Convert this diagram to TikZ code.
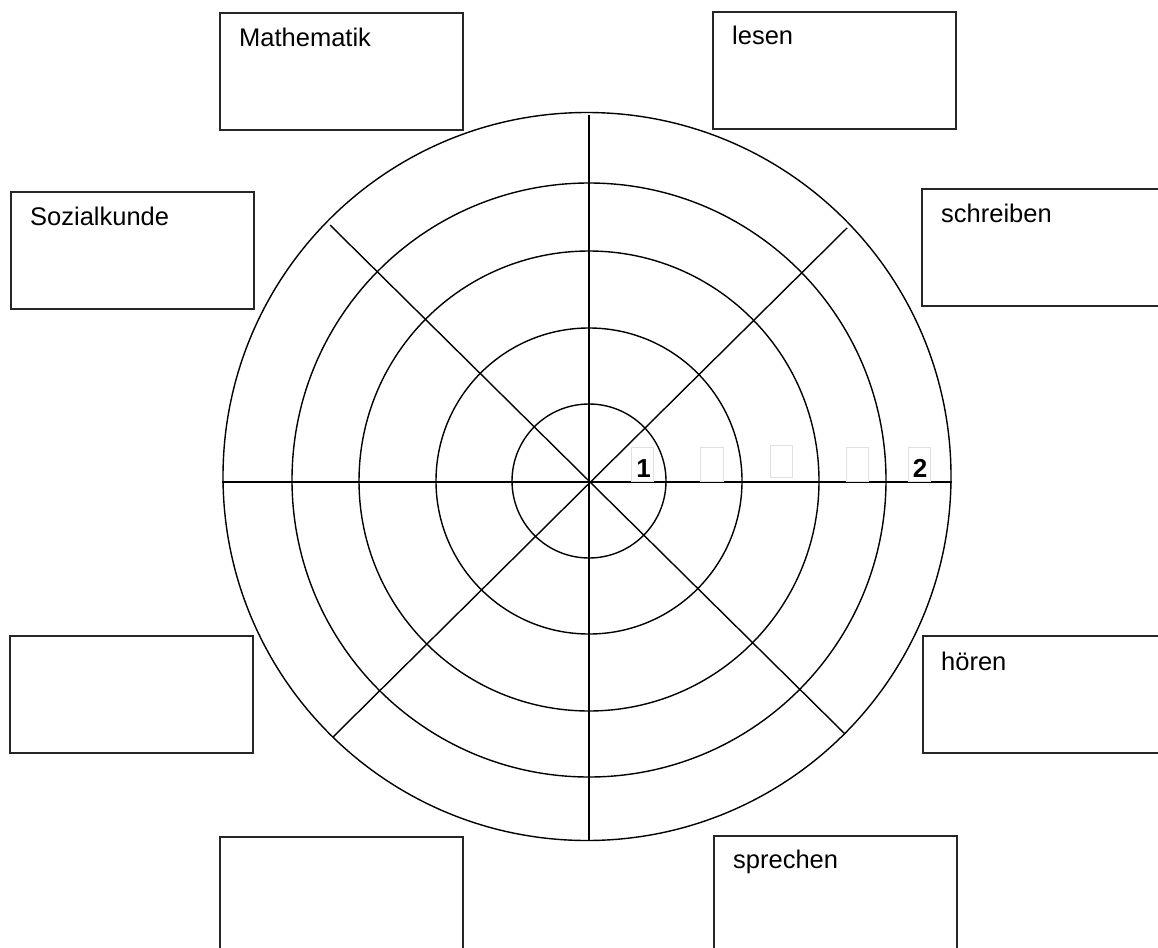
\documentclass[tikz,border=0pt]{standalone}
\usepackage{fontspec}
\setmainfont{Liberation Sans}
\begin{document}
\begin{tikzpicture}[x={(1pt,0)},y={(0,-1pt)},
  fbox/.style={draw=black!85,line width=1.4pt,minimum width=243pt,minimum height=117pt,anchor=north west,inner sep=0pt,outer sep=0pt},
  lbl/.style={anchor=base west,inner sep=0pt,font=\fontsize{25.5pt}{30pt}\selectfont},
  num/.style={anchor=base,inner sep=0pt,font=\fontsize{26pt}{30pt}\selectfont\bfseries},
  wbox/.style={fill=white,draw=black!12,line width=0.8pt},
  ring/.style={draw=black,line width=1.4pt},
  spoke/.style={draw=black,line width=1.4pt}]
\useasboundingbox (0,0) rectangle (1158,947);
\clip (0,0) rectangle (1158,947);
% rings
\coordinate (c) at (589,481);
\draw[ring] (c) circle[radius=77pt];
\draw[ring] (c) circle[radius=153pt];
\draw[ring] (c) circle[radius=230pt];
\draw[ring] (589,480) circle[radius=297pt];
\draw[ring] (587,476.5) circle[radius=364pt];
% spokes
\coordinate (W) at (222,482);
\coordinate (E) at (952,482);
\coordinate (N) at (589,115);
\coordinate (S) at (589,840);
\coordinate (NW) at (330,225);
\coordinate (NE) at (847,228);
\coordinate (SW) at (333,737);
\coordinate (SE) at (845,734);
\draw[spoke] (W) -- (E);
\draw[spoke] (N) -- (S);
\draw[spoke] (NW) -- (SE);
\draw[spoke] (NE) -- (SW);
% scale labels
\draw[wbox] (631,447) rectangle (653,481);
\draw[wbox] (700,447) rectangle (723,481);
\draw[wbox] (770,445) rectangle (792,477);
\draw[wbox] (846,447) rectangle (868,481);
\draw[wbox] (908,447) rectangle (930,481);
\node[num] (one) at (643.5,477) {1};
\node[num] (two) at (920,477) {2};
% boxes
\node[fbox] (math) at (220,13) {};
\node[lbl] (mathT) at (239,47) {Mathematik};
\node[fbox] (sozi) at (11,192) {};
\node[lbl] (soziT) at (30,225) {Sozialkunde};
\node[fbox] (lesen) at (713,12) {};
\node[lbl] (lesenT) at (732,45) {lesen};
\node[fbox] (schr) at (922,189) {};
\node[lbl] (schrT) at (941,222) {schreiben};
\node[fbox] (left) at (10,636) {};
\node[fbox] (hoer) at (923,636) {};
\node[lbl] (hoerT) at (941,670) {hören};
\node[fbox] (bl) at (220,837) {};
\node[fbox] (spr) at (714,836) {};
\node[lbl] (sprT) at (733,868) {sprechen};
\end{tikzpicture}
\end{document}
